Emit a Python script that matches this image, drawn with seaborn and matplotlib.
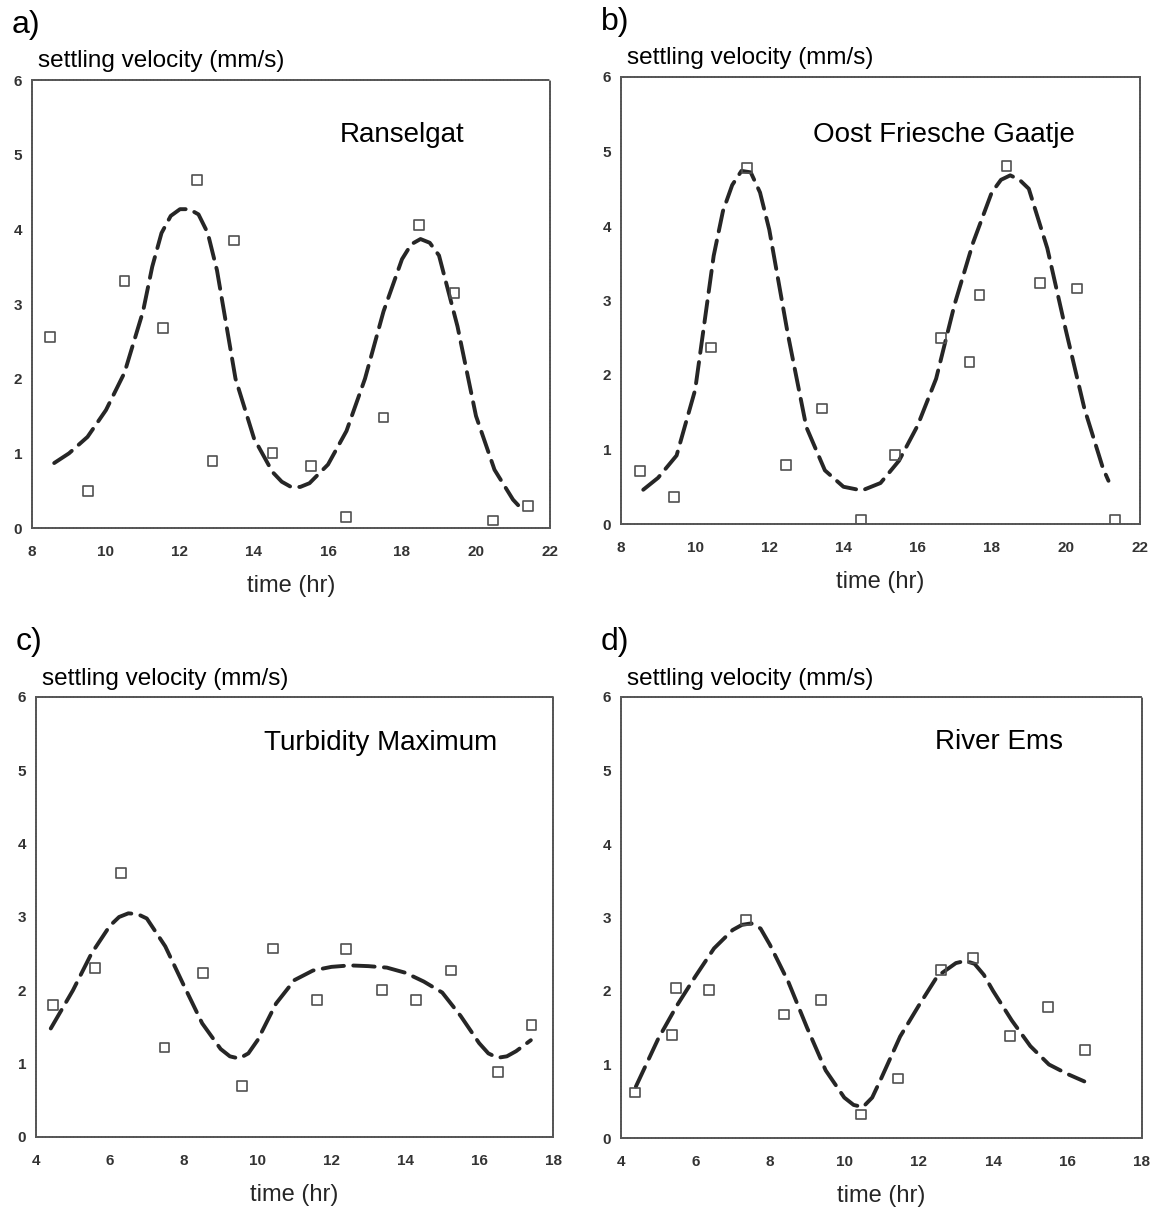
import numpy as np
import pandas as pd
import matplotlib
matplotlib.use("Agg")
import matplotlib.pyplot as plt
import seaborn as sns

# ---------------- data ----------------
# a) Ranselgat
a_obs_t = [8.49, 9.52, 10.5, 11.55, 12.45, 12.88, 13.45, 14.5, 15.54, 16.49, 17.5, 18.45, 19.42, 20.45, 21.4]
a_obs_v = [2.56, 0.50, 3.31, 2.68, 4.66, 0.90, 3.85, 1.00, 0.83, 0.15, 1.48, 4.06, 3.15, 0.10, 0.30]
a_fit_t = [8.6, 9.0, 9.5, 10.0, 10.5, 11.0, 11.25, 11.5, 11.75, 12.0, 12.25, 12.5, 12.75, 13.0, 13.5,
           14.0, 14.5, 14.75, 15.0, 15.25, 15.5, 16.0, 16.5, 17.0, 17.5, 18.0, 18.25, 18.5, 18.75,
           19.0, 19.5, 20.0, 20.5, 21.0, 21.3]
a_fit_v = [0.87, 1.0, 1.22, 1.58, 2.08, 2.9, 3.5, 3.95, 4.18, 4.27, 4.27, 4.2, 3.95, 3.45, 2.0,
           1.2, 0.75, 0.62, 0.55, 0.55, 0.6, 0.85, 1.3, 2.0, 2.9, 3.6, 3.8, 3.87, 3.82,
           3.65, 2.7, 1.5, 0.78, 0.38, 0.22]

# b) Oost Friesche Gaatje
b_obs_t = [8.51, 9.43, 10.43, 11.4, 12.45, 13.43, 14.47, 15.4, 16.63, 17.4, 17.67, 18.4, 19.3, 20.3, 21.33]
b_obs_v = [0.71, 0.36, 2.37, 4.78, 0.79, 1.55, 0.06, 0.93, 2.50, 2.18, 3.07, 4.81, 3.24, 3.16, 0.05]
b_fit_t = [8.6, 9.0, 9.5, 10.0, 10.5, 10.75, 11.0, 11.25, 11.5, 11.75, 12.0, 12.5, 13.0, 13.5, 14.0,
           14.5, 15.0, 15.5, 16.0, 16.5, 17.0, 17.5, 18.0, 18.25, 18.5, 18.75, 19.0, 19.5, 20.0, 20.5,
           21.0, 21.15]
b_fit_v = [0.46, 0.62, 0.92, 1.8, 3.6, 4.2, 4.55, 4.74, 4.72, 4.45, 3.95, 2.55, 1.3, 0.72, 0.5,
           0.45, 0.55, 0.85, 1.32, 1.95, 2.95, 3.78, 4.45, 4.62, 4.68, 4.62, 4.5, 3.7, 2.6, 1.55,
           0.75, 0.58]

# c) Turbidity Maximum
c_obs_t = [4.46, 5.6, 6.31, 7.48, 8.53, 9.58, 10.42, 11.6, 12.39, 13.36, 14.29, 15.24, 16.51, 17.42]
c_obs_v = [1.80, 2.31, 3.60, 1.22, 2.24, 0.69, 2.57, 1.87, 2.56, 2.01, 1.87, 2.27, 0.89, 1.53]
c_fit_t = [4.4, 5.0, 5.5, 6.0, 6.25, 6.5, 6.75, 7.0, 7.5, 8.0, 8.5, 9.0, 9.25, 9.5, 9.75, 10.0, 10.5,
           11.0, 11.5, 12.0, 12.5, 13.0, 13.5, 14.0, 14.5, 15.0, 15.5, 16.0, 16.25, 16.5, 16.75,
           17.0, 17.4]
c_fit_v = [1.48, 2.0, 2.5, 2.88, 3.0, 3.05, 3.04, 2.98, 2.6, 2.07, 1.55, 1.2, 1.1, 1.07, 1.14, 1.32,
           1.82, 2.14, 2.27, 2.32, 2.34, 2.33, 2.31, 2.24, 2.12, 1.97, 1.65, 1.28, 1.14, 1.08, 1.1,
           1.17, 1.32]

# d) River Ems
d_obs_t = [4.37, 5.37, 5.47, 6.36, 7.35, 8.39, 9.37, 10.44, 11.44, 12.59, 13.45, 14.45, 15.47, 16.46]
d_obs_v = [0.62, 1.40, 2.04, 2.01, 2.97, 1.68, 1.88, 0.32, 0.81, 2.29, 2.45, 1.39, 1.78, 1.20]
d_fit_t = [4.4, 5.0, 5.5, 6.0, 6.5, 7.0, 7.25, 7.5, 7.75, 8.0, 8.5, 9.0, 9.5, 10.0, 10.25, 10.5,
           10.75, 11.0, 11.5, 12.0, 12.5, 13.0, 13.25, 13.5, 13.75, 14.0, 14.5, 15.0, 15.5, 16.0, 16.45]
d_fit_v = [0.7, 1.35, 1.8, 2.2, 2.58, 2.83, 2.9, 2.92, 2.85, 2.63, 2.12, 1.5, 0.92, 0.55, 0.45, 0.42,
           0.55, 0.82, 1.38, 1.8, 2.2, 2.38, 2.41, 2.37, 2.22, 2.0, 1.6, 1.25, 1.0, 0.87, 0.77]

panel_letters = ["a)", "b)", "c)", "d)"]
station_names = ["Ranselgat", "Oost Friesche Gaatje", "Turbidity Maximum", "River Ems"]
y_ticks = [0, 1, 2, 3, 4, 5, 6]
x_ticks_ab = [8, 10, 12, 14, 16, 18, 20, 22]
x_ticks_cd = [4, 6, 8, 10, 12, 14, 16, 18]
y_label = "settling velocity (mm/s)"
x_label = "time (hr)"

# ---------------- plot ----------------
sns.set_theme(style="white")
plt.rcParams["font.family"] = ["Liberation Sans", "DejaVu Sans"]

W, H = 1151, 1216
fig = plt.figure(figsize=(W / 100, H / 100), dpi=100)

# axes boxes in pixels: left, top, right, bottom
boxes = [(32, 80, 550, 528), (621, 77, 1140, 524), (36, 697, 553, 1137), (621, 697, 1142, 1138)]
name_pos = [(0.715, 0.862), (0.622, 0.855), (0.667, 0.879), (0.726, 0.882)]

panels = [
    (a_obs_t, a_obs_v, a_fit_t, a_fit_v, x_ticks_ab),
    (b_obs_t, b_obs_v, b_fit_t, b_fit_v, x_ticks_ab),
    (c_obs_t, c_obs_v, c_fit_t, c_fit_v, x_ticks_cd),
    (d_obs_t, d_obs_v, d_fit_t, d_fit_v, x_ticks_cd),
]

for i, (ot, ov, ft, fv, xt) in enumerate(panels):
    l, t, r, b = boxes[i]
    ax = fig.add_axes([l / W, 1 - b / H, (r - l) / W, (b - t) / H])
    fit = pd.DataFrame({"t": ft, "v": fv})
    obs = pd.DataFrame({"t": ot, "v": ov})
    sns.lineplot(data=fit, x="t", y="v", ax=ax, color="#262626", linewidth=2.8,
                 estimator=None, sort=False)
    ax.lines[-1].set_linestyle((0, (5.5, 2.4)))
    ax.lines[-1].set_dash_capstyle("round")
    sns.scatterplot(data=obs, x="t", y="v", ax=ax, marker="s", s=50,
                    facecolor="none", edgecolor="#505050", linewidth=1.2, zorder=5)
    ax.set_xlim(xt[0], xt[-1])
    ax.set_ylim(0, 6)
    ax.set_xticks(xt)
    ax.set_yticks(y_ticks)
    ax.set_xticklabels([str(v) for v in xt], fontsize=11, fontweight="bold", color="#333333")
    ax.set_yticklabels([str(v) for v in y_ticks], fontsize=11, fontweight="bold", color="#333333")
    ax.tick_params(axis="both", direction="in", length=4, width=0.9, color="#666666")
    ax.tick_params(axis="x", pad=12)
    ax.tick_params(axis="y", pad=7)
    for sp in ax.spines.values():
        sp.set_visible(True)
        sp.set_color("#555555")
        sp.set_linewidth(1.4)
        sp.set_linestyle((0, (1, 0.8)))
    ax.set_ylabel("")
    ax.set_xlabel(x_label, fontsize=17, labelpad=12)
    ax.text(name_pos[i][0], name_pos[i][1], station_names[i], transform=ax.transAxes,
            ha="center", va="baseline", fontsize=20, color="black")
    # y-axis label above the axes, horizontal
    ax.text(0.012, 1.017, y_label, transform=ax.transAxes, ha="left", va="bottom",
            fontsize=17.5, color="black")
    # panel letter
    fig.text((l - 20) / W, 1 - (t - 70) / H, panel_letters[i], ha="left", va="top",
             fontsize=23, color="black")

fig.savefig("out.png", dpi=100, facecolor="white")
